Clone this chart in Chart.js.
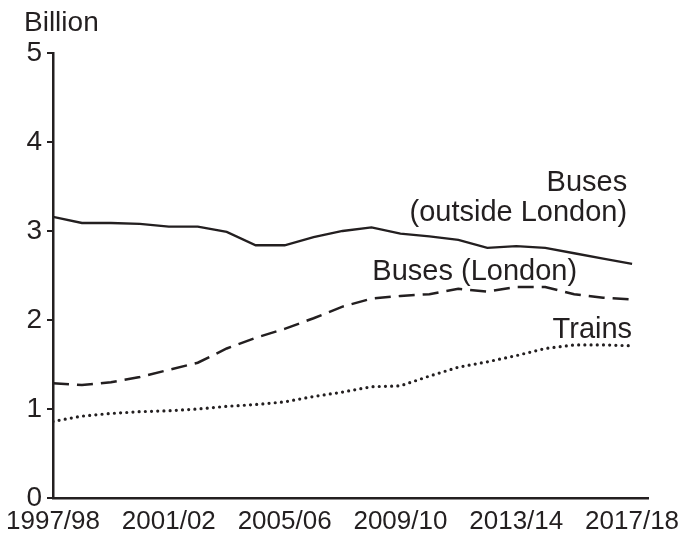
<!DOCTYPE html>
<html>
<head>
<meta charset="utf-8">
<script src="https://cdn.jsdelivr.net/npm/chart.js@4"></script>
<style>
  html, body { margin: 0; padding: 0; background: #fff; }
  #wrap { width: 682px; height: 535px; }
</style>
</head>
<body>
<div id="wrap"><canvas id="grafico" width="682" height="535"></canvas></div>
<script>
// anni finanziari
const anni = ['1997/98', '1998/99', '1999/00', '2000/01', '2001/02', '2002/03', '2003/04',
  '2004/05', '2005/06', '2006/07', '2007/08', '2008/09', '2009/10', '2010/11', '2011/12',
  '2012/13', '2013/14', '2014/15', '2015/16', '2016/17', '2017/18'];
const anniEtichette = [0, 4, 8, 12, 16, 20];

// viaggi in miliardi
const busFuoriLondra = [3.16, 3.09, 3.09, 3.08, 3.05, 3.05, 2.99, 2.84, 2.84, 2.93, 3.00,
  3.04, 2.97, 2.94, 2.90, 2.81, 2.83, 2.81, 2.75, 2.69, 2.63];
const busLondra = [1.29, 1.27, 1.30, 1.36, 1.44, 1.52, 1.68, 1.80, 1.90, 2.02, 2.15,
  2.24, 2.27, 2.29, 2.35, 2.32, 2.37, 2.37, 2.29, 2.25, 2.23];
const treni = [0.86, 0.92, 0.95, 0.97, 0.98, 1.00, 1.03, 1.05, 1.08, 1.14, 1.19,
  1.25, 1.26, 1.37, 1.47, 1.53, 1.60, 1.68, 1.72, 1.72, 1.71];

const nero = '#231f20';
const font = "Arial, 'Liberation Sans', sans-serif";

function punti(valori) {
  return valori.map((v, i) => ({ x: i, y: v }));
}

// etichette delle serie e "Billion"
const etichettePlugin = {
  id: 'etichette',
  afterDraw(chart) {
    const ctx = chart.ctx;
    const sx = chart.scales.x, sy = chart.scales.y;
    ctx.save();
    ctx.fillStyle = nero;
    ctx.font = '28px ' + font;
    ctx.textBaseline = 'middle';
    ctx.textAlign = 'left';
    ctx.fillText('Billion', 24, 23);
    ctx.font = '29px ' + font;
    ctx.textAlign = 'right';
    ctx.fillText('Buses', sx.getPixelForValue(19.83), sy.getPixelForValue(3.54));
    ctx.fillText('(outside London)', sx.getPixelForValue(19.83), sy.getPixelForValue(3.20));
    ctx.fillText('Buses (London)', sx.getPixelForValue(18.1), sy.getPixelForValue(2.54));
    ctx.fillText('Trains', sx.getPixelForValue(20.0), sy.getPixelForValue(1.89));
    ctx.restore();
  }
};

new Chart(document.getElementById('grafico'), {
  type: 'line',
  data: {
    datasets: [{
      label: 'Buses (outside London)',
      data: punti(busFuoriLondra),
      borderColor: nero,
      borderWidth: 2.3,
      pointRadius: 0,
      fill: false
    }, {
      label: 'Buses (London)',
      data: punti(busLondra),
      borderColor: nero,
      borderWidth: 2.5,
      borderDash: [16, 8],
      pointRadius: 0,
      fill: false
    }, {
      label: 'Trains',
      data: punti(treni),
      borderColor: nero,
      borderWidth: 3.2,
      borderDash: [0, 6.2],
      borderCapStyle: 'round',
      pointRadius: 0,
      fill: false
    }]
  },
  options: {
    responsive: false,
    animation: false,
    layout: { padding: { top: 53, right: 34, left: 0, bottom: 0 } },
    plugins: { legend: { display: false }, tooltip: { enabled: false } },
    scales: {
      x: {
        type: 'linear',
        min: 0,
        max: 20.55,
        grid: { display: false },
        border: { display: true, color: nero, width: 2.5 },
        afterBuildTicks: (scale) => { scale.ticks = anniEtichette.map(v => ({ value: v })); },
        afterFit: (scale) => { scale.height = 37; },
        ticks: {
          color: nero,
          font: { family: font, size: 26 },
          padding: 0,
          maxRotation: 0,
          autoSkip: false,
          callback: (v) => anni[v]
        }
      },
      y: {
        min: 0,
        max: 5,
        grid: { drawOnChartArea: false, drawTicks: true, tickLength: 6, color: nero, lineWidth: 2 },
        border: { display: true, color: nero, width: 2.5 },
        afterFit: (scale) => { scale.width = 53; },
        ticks: {
          stepSize: 1,
          color: nero,
          font: { family: font, size: 28 },
          padding: 5
        }
      }
    }
  },
  plugins: [etichettePlugin]
});
</script>
</body>
</html>
